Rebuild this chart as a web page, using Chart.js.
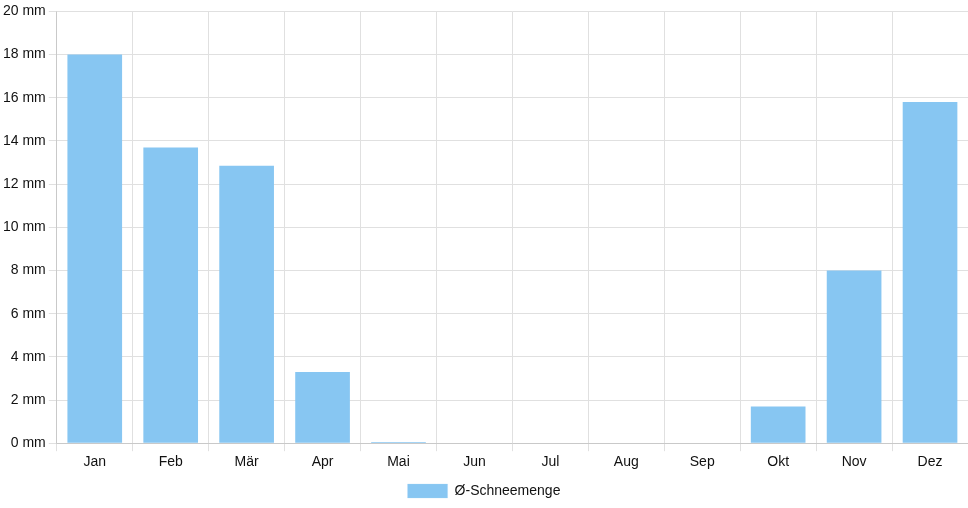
<!DOCTYPE html>
<html><head><meta charset="utf-8">
<script src="https://cdn.jsdelivr.net/npm/chart.js@4/dist/chart.umd.min.js"></script>
<style>html,body{margin:0;padding:0;background:#fff}#wrap{width:968px;height:508px}</style>
</head><body><div id="wrap"><canvas id="c"></canvas></div>
<script>
const categories = ["Jan","Feb","Mär","Apr","Mai","Jun","Jul","Aug","Sep","Okt","Nov","Dez"];
const snowValues = [18.0, 13.7, 12.85, 3.3, 0.05, 0, 0, 0, 0, 1.7, 8.0, 15.8];
const seriesLabel = "Ø-Schneemenge";
Chart.defaults.font.family = "'Liberation Sans', Arial, sans-serif";
Chart.defaults.font.size = 14;
Chart.defaults.color = "#111";
new Chart(document.getElementById('c'), {
  type: 'bar',
  data: { labels: categories, datasets: [{ label: seriesLabel, data: snowValues,
    backgroundColor: 'rgb(135,198,242)', borderColor: 'rgb(160,210,246)', borderWidth: {top:0,left:0,right:0,bottom:1} }] },
  options: {
    responsive: true, maintainAspectRatio: false, animation: false,
    layout: { padding: { left: 0, right: 0, top: 3, bottom: 0 } },
    plugins: { legend: { position: 'bottom', labels: { boxWidth: 40, boxHeight: 14 } }, tooltip: { enabled: false } },
    scales: {
      y: { min: 0, max: 20, ticks: { stepSize: 2, callback: v => v + ' mm' }, grid: { color: '#e0e0e0' } },
      x: { grid: { color: '#e0e0e0' } }
    }
  }
});
</script></body></html>
